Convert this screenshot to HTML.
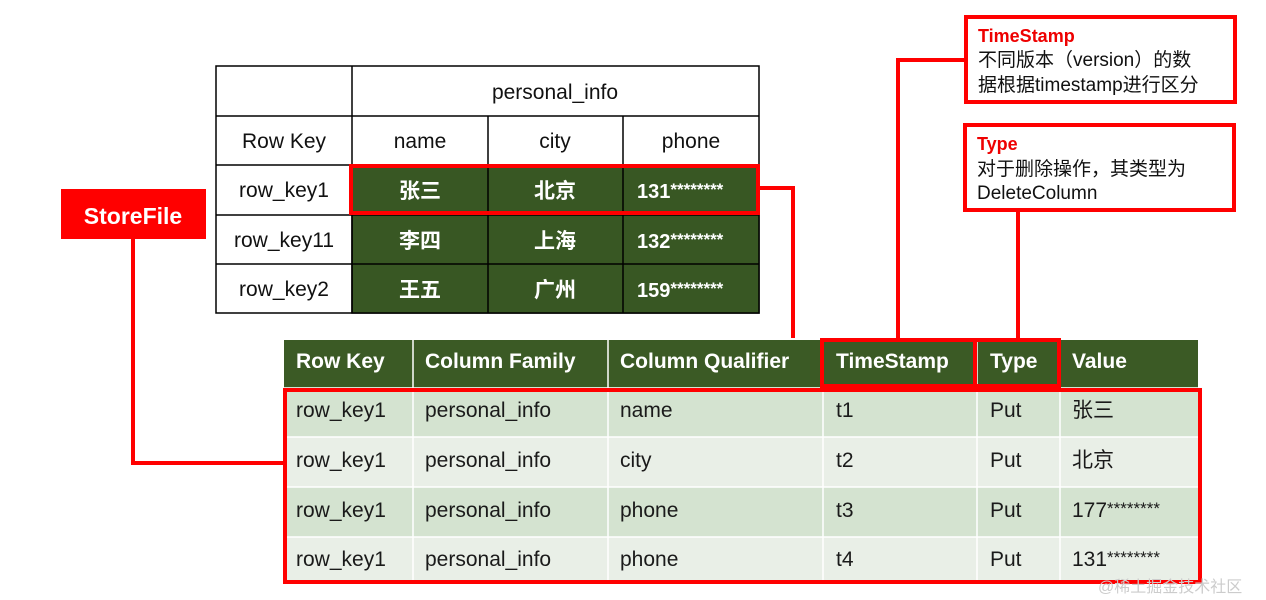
<!DOCTYPE html>
<html><head><meta charset="utf-8"><style>
html,body{margin:0;padding:0;background:#fff;}
svg{display:block;font-family:"Liberation Sans","Noto Sans CJK SC",sans-serif;}
</style></head><body>
<svg width="1266" height="600" viewBox="0 0 1266 600" xmlns="http://www.w3.org/2000/svg">
<g stroke="#000" stroke-width="1.5">
<rect x="216" y="66" width="543" height="247" fill="#fff"/>
<rect x="352" y="165" width="407" height="148" fill="#385723"/>
<line x1="216" y1="116" x2="759" y2="116"/>
<line x1="216" y1="165" x2="759" y2="165"/>
<line x1="216" y1="215" x2="759" y2="215"/>
<line x1="216" y1="264" x2="759" y2="264"/>
<line x1="352" y1="66" x2="352" y2="313"/>
<line x1="488" y1="116" x2="488" y2="313"/>
<line x1="623" y1="116" x2="623" y2="313"/>
</g>
<g font-size="21" fill="#111" text-anchor="middle">
<text x="555" y="99">personal_info</text>
<text x="284" y="148">Row Key</text>
<text x="420" y="148">name</text>
<text x="555" y="148">city</text>
<text x="691" y="148">phone</text>
<text x="284" y="197">row_key1</text>
<text x="284" y="247">row_key11</text>
<text x="284" y="296">row_key2</text>
</g>
<g font-size="21" fill="#fff" font-weight="bold" text-anchor="middle">
<text x="420" y="198">张三</text><text x="555" y="198">北京</text>
<text x="420" y="248">李四</text><text x="555" y="248">上海</text>
<text x="420" y="297">王五</text><text x="555" y="297">广州</text>
</g>
<g font-size="20" fill="#fff" font-weight="bold">
<text x="637" y="198">131<tspan font-size="17" dy="-3">********</tspan></text>
<text x="637" y="248">132<tspan font-size="17" dy="-3">********</tspan></text>
<text x="637" y="297">159<tspan font-size="17" dy="-3">********</tspan></text>
</g>
<rect x="351" y="166" width="407" height="47" fill="none" stroke="#f00" stroke-width="4"/>

<rect x="284" y="340" width="914" height="47" fill="#3b5a25"/>
<rect x="284" y="387" width="914" height="50" fill="#d4e3d0"/>
<rect x="284" y="437" width="914" height="50" fill="#e9efe7"/>
<rect x="284" y="487" width="914" height="50" fill="#d4e3d0"/>
<rect x="284" y="537" width="914" height="46" fill="#e9efe7"/>
<g stroke="#fff" stroke-width="1.5">
<line x1="413" y1="340" x2="413" y2="583"/>
<line x1="608" y1="340" x2="608" y2="583"/>
<line x1="823" y1="340" x2="823" y2="583"/>
<line x1="977" y1="340" x2="977" y2="583"/>
<line x1="1060" y1="340" x2="1060" y2="583"/>
<line x1="284" y1="437" x2="1198" y2="437"/>
<line x1="284" y1="487" x2="1198" y2="487"/>
<line x1="284" y1="537" x2="1198" y2="537"/>
</g>
<g font-size="21" fill="#fff" font-weight="bold">
<text x="296" y="368">Row Key</text>
<text x="425" y="368">Column Family</text>
<text x="620" y="368">Column Qualifier</text>
<text x="836" y="368">TimeStamp</text>
<text x="990" y="368">Type</text>
<text x="1072" y="368">Value</text>
</g>
<g font-size="21" fill="#1a1a1a">
<text x="296" y="417">row_key1</text><text x="425" y="417">personal_info</text><text x="620" y="417">name</text><text x="836" y="417">t1</text><text x="990" y="417">Put</text><text x="1072" y="417">张三</text>
<text x="296" y="467">row_key1</text><text x="425" y="467">personal_info</text><text x="620" y="467">city</text><text x="836" y="467">t2</text><text x="990" y="467">Put</text><text x="1072" y="467">北京</text>
<text x="296" y="517">row_key1</text><text x="425" y="517">personal_info</text><text x="620" y="517">phone</text><text x="836" y="517">t3</text><text x="990" y="517">Put</text><text x="1072" y="517">177<tspan font-size="17" dy="-3">********</tspan></text>
<text x="296" y="566">row_key1</text><text x="425" y="566">personal_info</text><text x="620" y="566">phone</text><text x="836" y="566">t4</text><text x="990" y="566">Put</text><text x="1072" y="566">131<tspan font-size="17" dy="-3">********</tspan></text>
</g>
<g fill="none" stroke="#f00" stroke-width="4">
<rect x="285" y="390" width="915" height="192"/>
<rect x="822" y="340" width="153" height="46"/>
<rect x="975" y="340" width="84" height="46"/>
<polyline points="758,188 793,188 793,338"/>
<polyline points="964,60 898,60 898,340"/>
<polyline points="1018,211 1018,340"/>
<polyline points="133,239 133,463 285,463"/>
<rect x="966" y="17" width="269" height="85" fill="#fff"/>
<rect x="965" y="125" width="269" height="85" fill="#fff"/>
</g>
<rect x="61" y="189" width="145" height="50" fill="#f00"/>
<text x="133" y="224" font-size="23" font-weight="bold" fill="#fff" text-anchor="middle">StoreFile</text>
<text x="978" y="42" font-size="18" font-weight="bold" fill="#e00">TimeStamp</text>
<text x="978" y="66" font-size="19" fill="#111">不同版本（version）的数</text>
<text x="978" y="91" font-size="19" fill="#111">据根据timestamp进行区分</text>
<text x="977" y="150" font-size="18" font-weight="bold" fill="#e00">Type</text>
<text x="977" y="175" font-size="19" fill="#111">对于删除操作，其类型为</text>
<text x="977" y="199" font-size="19" fill="#111">DeleteColumn</text>
<text x="1098" y="592" font-size="16" fill="#ccc">@稀土掘金技术社区</text>
</svg>
</body></html>
